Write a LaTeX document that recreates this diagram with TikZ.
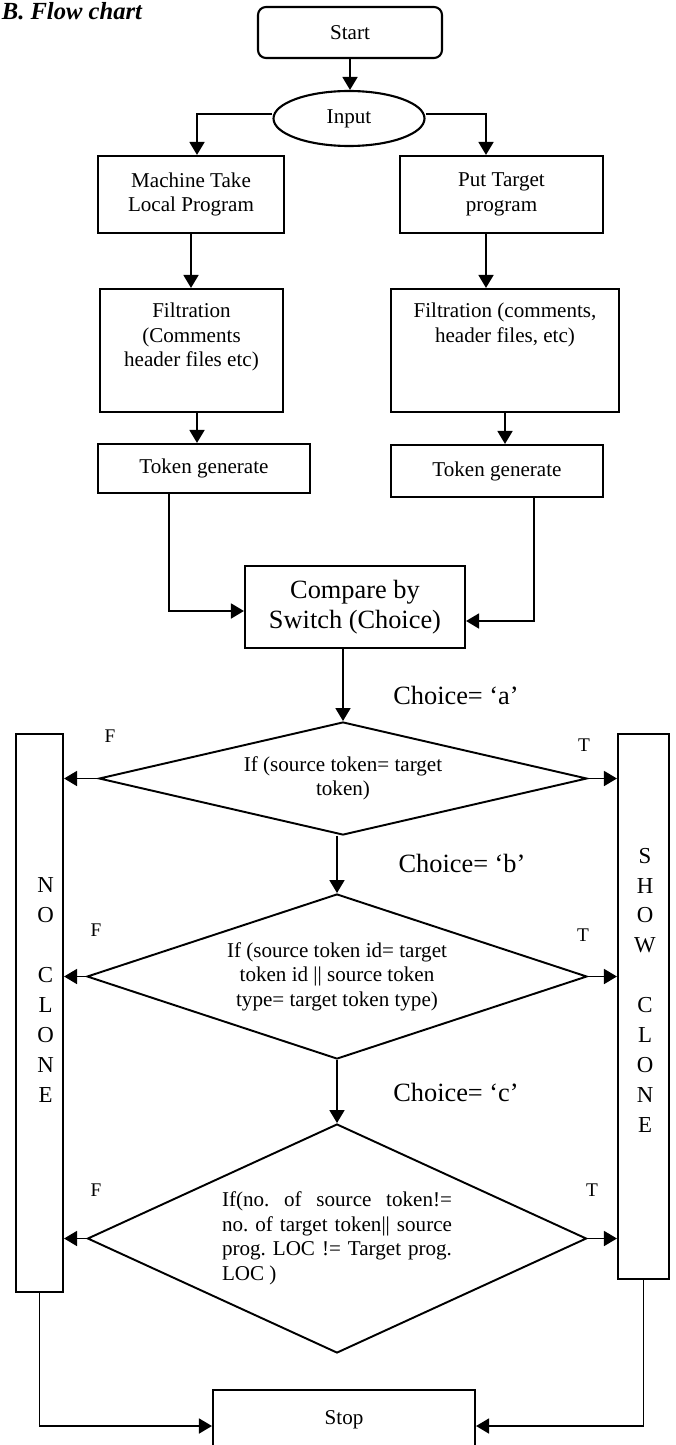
\documentclass[tikz,border=0pt]{standalone}
\usepackage{fontspec}
\setmainfont{Liberation Serif}
\usetikzlibrary{shapes.geometric,arrows.meta,positioning}
\frenchspacing

\begin{document}
\begin{tikzpicture}[
  box/.style={rectangle, draw, line width=1.2pt, align=center,
    font=\fontsize{12}{14}\selectfont, inner sep=2pt},
  decision/.style={diamond, draw, line width=1.1pt, align=center, inner sep=0pt,
    font=\fontsize{12}{14}\selectfont},
  sidebox/.style={rectangle, draw, line width=1.2pt, font=\fontsize{13}{17}\selectfont},
  choice/.style={font=\fontsize{15}{17}\selectfont},
  flag/.style={font=\fontsize{11}{13}\selectfont},
  arrow/.style={-{Triangle[length=0.26cm,width=0.3cm]}, line width=1pt}
]
  \useasboundingbox (0,0) rectangle (13.5,-28.9);

  \node[anchor=base west, inner sep=0pt, font=\fontsize{14}{16}\selectfont\bfseries\itshape]
    (title) at (0.03,-0.4) {B. Flow chart};

  \node[box, rounded corners=0.16cm, minimum width=3.68cm, minimum height=1.02cm] (start) at (7.0,-0.65) {Start};
  \node[ellipse, draw, line width=1.2pt, inner sep=0pt, minimum width=3.02cm, minimum height=1.1cm,
    font=\fontsize{12}{14}\selectfont] (input) at (6.98,-2.37) {Input};
  \node[box, minimum width=3.72cm, minimum height=1.54cm] (machine) at (3.82,-3.89) {Machine Take\\Local Program};
  \node[box, minimum width=4.06cm, minimum height=1.54cm] (target) at (10.03,-3.89) {Put Target\\program};
  \node[box, minimum width=3.66cm, minimum height=2.46cm, text depth=0.62cm] (filterL) at (3.83,-7.01)
    {Filtration\\(Comments\\header files etc)};
  \node[box, minimum width=4.56cm, minimum height=2.46cm, text depth=1.12cm] (filterR) at (10.1,-7.01)
    {Filtration (comments,\\header files, etc)};
  \node[box, minimum width=4.24cm, minimum height=0.98cm] (tokenL) at (4.08,-9.37) {Token generate};
  \node[box, minimum width=4.24cm, minimum height=1.04cm] (tokenR) at (9.94,-9.42) {Token generate};
  \node[box, minimum width=4.4cm, minimum height=1.64cm, font=\fontsize{15}{17}\selectfont] (compare) at (7.1,-12.14)
    {Compare by\\Switch (Choice)};

  \node[decision, aspect=4.3, minimum width=9.76cm, minimum height=2.26cm] (dia1) at (6.86,-15.57)
    {If (source token= target\\token)};
  \node[decision, aspect=3, minimum width=10cm, minimum height=3.3cm] (dia2) at (6.74,-19.53)
    {If (source token id= target\\token id || source token\\type= target token type)};
  \node[decision, aspect=2.2, minimum width=9.98cm, minimum height=4.58cm, text width=4.6cm, align=justify] (dia3) at (6.74,-24.77)
    {\tolerance=10000 If(no. of source token!=\linebreak no. of target token|| source\linebreak prog. LOC != Target prog.\linebreak LOC )};

  \node[sidebox, minimum width=0.94cm, minimum height=11.16cm,
    label={[align=center, font=\fontsize{13}{17}\selectfont, xshift=0.12cm, yshift=0.46cm]center:{N\\O\\[17pt]C\\L\\O\\N\\E}}]
    (noclone) at (0.79,-20.26) {};
  \node[sidebox, minimum width=1.02cm, minimum height=10.9cm,
    label={[align=center, font=\fontsize{13}{17}\selectfont, xshift=0.03cm, yshift=0.33cm]center:{S\\H\\O\\W\\[17pt]C\\L\\O\\N\\E}}]
    (showclone) at (12.87,-20.13) {};
  \node[box, minimum width=5.24cm, minimum height=1.2cm] (stop) at (6.88,-28.4) {Stop};

  \node[choice] (choiceA) at (9.12,-13.9) {Choice= `a'};
  \node[choice] (choiceB) at (9.24,-17.26) {Choice= `b'};
  \node[choice] (choiceC) at (9.12,-21.84) {Choice= `c'};
  \node[flag] (falseA) at (2.2,-14.72) {F};
  \node[flag] (trueA) at (11.68,-14.9) {T};
  \node[flag] (falseB) at (1.92,-18.6) {F};
  \node[flag] (trueB) at (11.66,-18.7) {T};
  \node[flag] (falseC) at (1.92,-23.8) {F};
  \node[flag] (trueC) at (11.84,-23.8) {T};

  \draw[arrow] (start.south) -- (start.south |- input.north);
  \draw[arrow] ([yshift=0.09cm]input.west) -| ([xshift=0.12cm]machine.north);
  \draw[arrow] ([yshift=0.09cm]input.east) -| ([xshift=-0.31cm]target.north);
  \draw[arrow] (machine.south) -- (machine.south |- filterL.north);
  \draw[arrow] ([xshift=-0.31cm]target.south) -- ([xshift=-0.31cm]target.south |- filterR.north);
  \draw[arrow] ([xshift=0.11cm]filterL.south) -- ([xshift=0.11cm]filterL.south |- tokenL.north);
  \draw[arrow] (filterR.south) -- (filterR.south |- tokenR.north);
  \draw[arrow] ([xshift=-0.7cm]tokenL.south) |- ([yshift=-0.08cm]compare.west);
  \draw[arrow] ([xshift=0.74cm]tokenR.south) |- ([yshift=-0.28cm]compare.east);
  \draw[arrow] (dia1.north |- compare.south) -- (dia1.north);
  \draw[arrow] (dia2.north |- dia1.south) -- (dia2.north);
  \draw[arrow] (dia3.north |- dia2.south) -- (dia3.north);

  \draw[arrow] (dia1.west) -- (dia1.west -| noclone.east);
  \draw[arrow] (dia1.east) -- (dia1.east -| showclone.west);
  \draw[arrow] (dia2.west) -- (dia2.west -| noclone.east);
  \draw[arrow] (dia2.east) -- (dia2.east -| showclone.west);
  \draw[arrow] (dia3.west) -- (dia3.west -| noclone.east);
  \draw[arrow] (dia3.east) -- (dia3.east -| showclone.west);

  \draw[arrow] (noclone.south) |- ([yshift=-0.12cm]stop.west);
  \draw[arrow] (showclone.south) |- ([yshift=-0.12cm]stop.east);
\end{tikzpicture}
\end{document}
